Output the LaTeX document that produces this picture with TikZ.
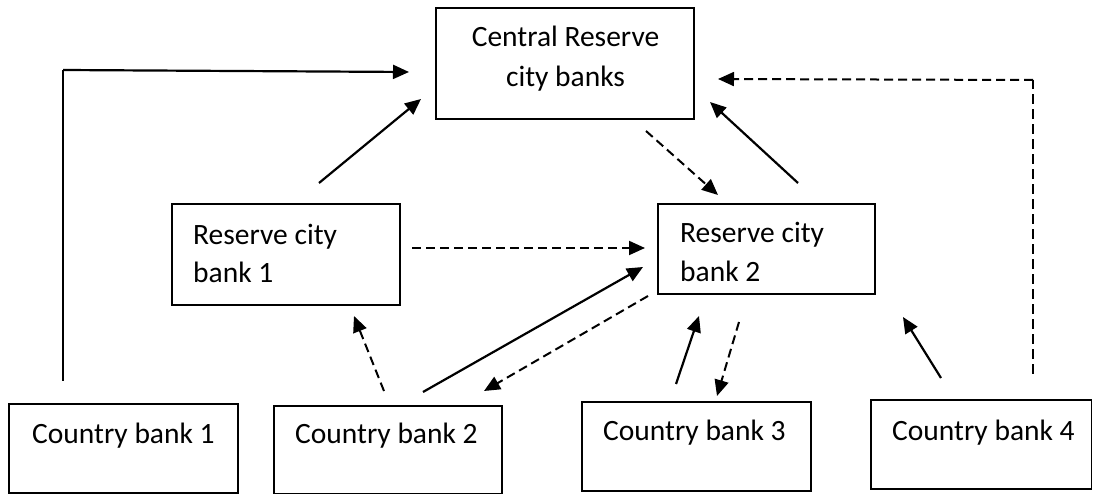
\documentclass[tikz,border=0pt]{standalone}
\usepackage{fontspec}
\setmainfont{Carlito}
\usetikzlibrary{arrows.meta}
\tikzset{
  box/.style={draw, line width=1.3pt, rectangle, inner sep=0pt},
  lbl/.style={anchor=base west, inner sep=0pt, font=\fontsize{29.5pt}{34pt}\selectfont},
  clbl/.style={anchor=base, inner sep=0pt, font=\fontsize{29.5pt}{34pt}\selectfont},
  tip/.style={-{Triangle[length=16pt,width=14pt]}},
  solidarrow/.style={tip, line width=2.2pt},
  dasharrow/.style={tip, line width=2pt, dash pattern=on 9pt off 5pt},
}
\begin{document}
\begin{tikzpicture}[x=1pt,y=-1pt]
\useasboundingbox (0,0) rectangle (1093,494);
% boxes
\node[box, minimum width=258pt, minimum height=111pt] (central) at (565,63.5) {};
\node[box, minimum width=228pt, minimum height=101pt] (rcb1) at (286,254.5) {};
\node[box, minimum width=217pt, minimum height=90pt] (rcb2) at (766.5,249) {};
\node[box, minimum width=229pt, minimum height=89pt] (cb1) at (123.5,448.5) {};
\node[box, minimum width=228pt, minimum height=87.5pt] (cb2) at (388,449.75) {};
\node[box, minimum width=229pt, minimum height=89pt] (cb3) at (696.5,446.5) {};
\node[box, minimum width=220.5pt, minimum height=89pt] (cb4) at (981.25,444.5) {};
% texts
\node[clbl] (centralA) at (565.5,47) {Central Reserve};
\node[clbl] (centralB) at (565.5,87) {city banks};
\node[lbl] (rcb1A) at (193,245) {Reserve city};
\node[lbl] (rcb1B) at (193,283) {bank 1};
\node[lbl] (rcb2A) at (680,243) {Reserve city};
\node[lbl] (rcb2B) at (680,282) {bank 2};
\node[lbl] (cb1T) at (32,443) {Country bank 1};
\node[lbl] (cb2T) at (295,443) {Country bank 2};
\node[lbl] (cb3T) at (603,440) {Country bank 3};
\node[lbl] (cb4T) at (892,440) {Country bank 4};
% connector end points
\coordinate (a1s) at (63,381);
\coordinate (a1c) at (63,70);
\coordinate (a1e) at (409,72);
\coordinate (a2s) at (319,183);
\coordinate (a2e) at (421,99);
\coordinate (a3s) at (646,131);
\coordinate (a3e) at (718,195);
\coordinate (a4s) at (798,183);
\coordinate (a4e) at (710,102);
\coordinate (a5s) at (1033,374);
\coordinate (a5c) at (1033,80);
\coordinate (a5e) at (718,79);
\coordinate (a6s) at (412,248);
\coordinate (a6e) at (645,248);
\coordinate (a7s) at (384,391);
\coordinate (a7e) at (354,316);
\coordinate (a8s) at (423,392);
\coordinate (a8e) at (643,267);
\coordinate (a9s) at (648,296);
\coordinate (a9e) at (484,391);
\coordinate (a10s) at (676,384);
\coordinate (a10e) at (699,316);
\coordinate (a11s) at (739,322);
\coordinate (a11e) at (717,396);
\coordinate (a12s) at (941,378);
\coordinate (a12e) at (903,317);
% connectors
\draw[line width=1.6pt] (a1s) -- (a1c);
\draw[solidarrow] (a1c) -- (a1e);
\draw[solidarrow] (a2s) -- (a2e);
\draw[dasharrow] (a3s) -- (a3e);
\draw[solidarrow] (a4s) -- (a4e);
\draw[line width=1.5pt, dash pattern=on 10pt off 5pt] (a5s) -- (a5c);
\draw[dasharrow] (a5c) -- (a5e);
\draw[dasharrow] (a6s) -- (a6e);
\draw[dasharrow] (a7s) -- (a7e);
\draw[solidarrow] (a8s) -- (a8e);
\draw[dasharrow] (a9s) -- (a9e);
\draw[solidarrow] (a10s) -- (a10e);
\draw[dasharrow] (a11s) -- (a11e);
\draw[solidarrow] (a12s) -- (a12e);
\end{tikzpicture}
\end{document}
